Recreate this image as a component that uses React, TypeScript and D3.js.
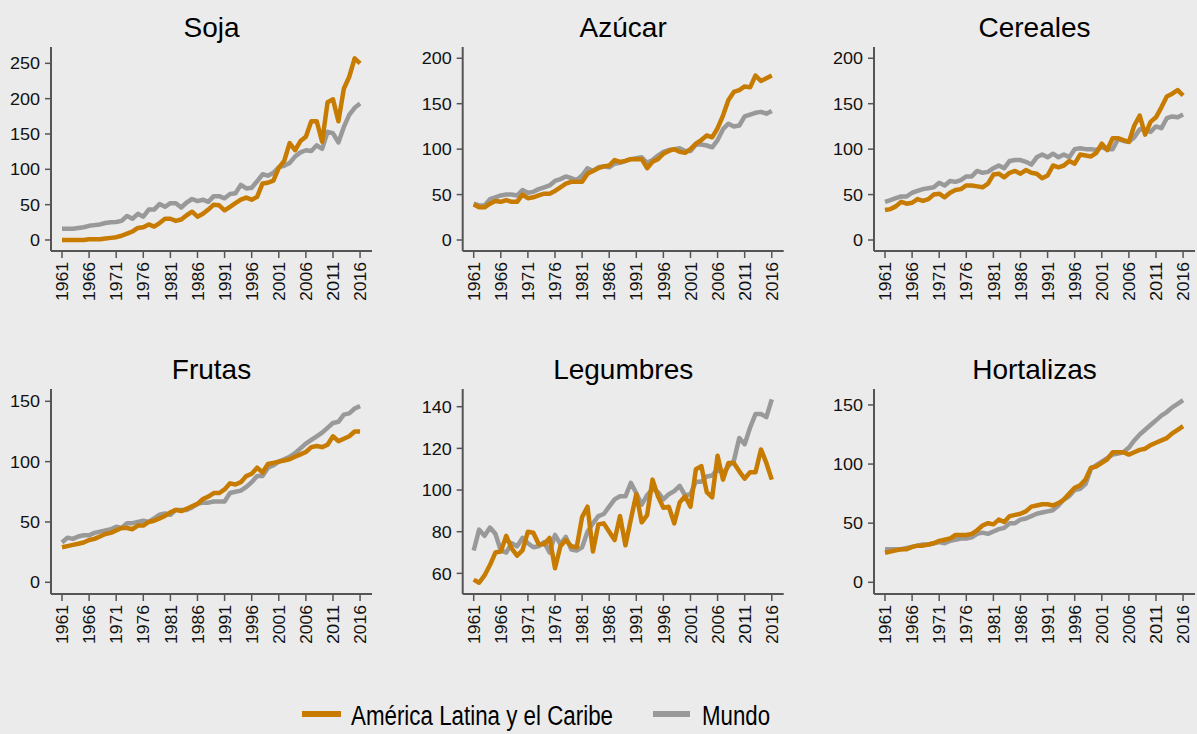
import * as d3 from "d3";

const YEARS = d3.range(1961, 2017);
const YEAR_TICKS = d3.range(1961, 2017, 5);

const SOJA_ALC = [0, 0, 0, 0, 0, 1, 1, 1, 2, 3, 4, 6, 9, 12, 17, 18, 22, 19, 24, 30, 30, 27, 29, 35, 40, 33, 37, 43, 50, 49, 42, 47, 52, 57, 60, 57, 61, 80, 81, 84, 102, 112, 137, 127, 140, 146, 168, 168, 139, 195, 199, 168, 214, 231, 257, 250];
const SOJA_MUNDO = [16, 16, 16, 17, 18, 20, 21, 22, 24, 25, 25.5, 27, 34, 30, 37, 33, 43, 43, 51, 47, 52, 52, 46, 53, 58, 55, 57, 54, 62, 62, 59, 65, 66, 78, 73, 74, 83, 93, 91, 95, 103, 105, 109, 118, 124, 127, 126, 134, 129, 153, 151, 138, 160, 177, 187, 193];

const AZUCAR_ALC = [39, 36, 36, 40, 43, 42, 44, 42, 42, 50, 46, 47, 49, 51, 51, 54, 58, 62, 64, 64, 64, 73, 76, 79, 81, 82, 88, 86, 87, 89, 89, 89, 79, 86, 89, 95, 98, 100, 97, 96, 100, 106, 110, 115, 113, 123, 137, 154, 163, 165, 169, 168, 181, 175, 178, 181];
const AZUCAR_MUNDO = [40, 38, 38, 45, 47, 49, 50, 50, 49, 55, 52, 53, 56, 58, 60, 65, 67, 70, 68, 66, 71, 79, 76, 80, 81, 80, 84, 85, 87, 89, 90, 91, 85, 88, 93, 97, 99, 100, 101, 98, 98, 105, 105, 104, 102, 110, 122, 128, 125, 126, 136, 138, 140, 141, 139, 142];

const CEREALES_ALC = [33, 34, 37, 42, 40, 41, 45, 43, 45, 50, 51, 47, 52, 55, 56, 60, 60, 59, 58, 62, 72, 73, 69, 74, 76, 73, 77, 74, 73, 68, 71, 82, 80, 82, 87, 84, 94, 93, 92, 96, 106, 99, 112, 112, 110, 108, 126, 137, 116, 130, 135, 146, 158, 161, 165, 159];
const CEREALES_MUNDO = [42, 44, 46, 48, 48, 52, 54, 56, 57, 58, 63, 60, 65, 64, 66, 70, 70, 76, 74, 75, 79, 82, 79, 87, 88, 88, 86, 83, 91, 94, 91, 95, 91, 94, 91, 100, 101, 100, 100, 99, 102, 100, 100, 111, 109, 108, 113, 122, 121, 119, 125, 123, 134, 136, 135, 138];

const FRUTAS_ALC = [29, 30, 31, 32, 33, 35, 36, 38, 40, 41, 43, 45, 45, 44, 47, 47, 50, 51, 53, 55, 58, 60, 59, 61, 63, 65, 69, 71, 74, 74, 77, 82, 81, 83, 88, 90, 95, 91, 98, 99, 100, 101, 102, 104, 106, 108, 112, 113, 112, 114, 121, 117, 119, 121, 125, 125];
const FRUTAS_MUNDO = [33, 37, 36, 38, 39, 39, 41, 42, 43, 44, 46, 45, 49, 49, 50, 51, 50, 53, 56, 57, 56, 60, 60, 60, 62, 65, 66, 66, 67, 67, 67, 74, 75, 76, 79, 83, 88, 88, 95, 97, 100, 102, 104, 107, 111, 115, 118, 121, 124, 128, 132, 133, 139, 140, 144, 146];

const LEGUMBRES_ALC = [57, 55.5, 59, 64, 70, 70.5, 78, 72, 68.5, 71, 80, 79.5, 74, 74, 77, 62.5, 73, 76, 73, 72.5, 87, 92, 70.5, 83.5, 84, 80, 76, 87.5, 73.5, 86, 98, 84.5, 88, 105, 97, 91.5, 92, 84, 94, 97, 92, 110, 111.5, 99, 96.5, 116.5, 105, 113, 113, 109, 105.5, 108.5, 108.5, 119.5, 113, 105];
const LEGUMBRES_MUNDO = [71, 81, 78, 82, 79, 71, 70, 74.5, 73, 77, 74.5, 72.5, 73, 75, 70, 78.5, 74, 77.5, 71.5, 71, 72.5, 80, 84, 87.5, 88.5, 92, 95.5, 97, 97, 103.5, 98.5, 93, 97.5, 100.5, 99, 95.5, 98, 99.5, 102, 97.5, 98, 104, 104, 106.5, 107, 110, 108, 111.5, 114, 125, 122, 130, 136.5, 136.5, 135, 143.5];

const HORTALIZAS_ALC = [25, 26, 27, 28, 28, 30, 31, 31, 32, 33, 35, 36, 37, 40, 40, 40, 41, 44, 48, 50, 49, 53, 51, 56, 57, 58, 60, 64, 65, 66, 66, 65, 67, 70, 75, 80, 82, 87, 97, 98, 101, 104, 110, 110, 110, 108, 110, 112, 113, 116, 118, 120, 122, 126, 129, 132];
const HORTALIZAS_MUNDO = [28, 28, 28, 28, 29, 30, 31, 32, 32, 33, 34, 33, 35, 36, 37, 37, 38, 41, 42, 41, 43, 45, 46, 50, 50, 53, 54, 56, 58, 59, 60, 61, 65, 70, 73, 78, 79, 83, 96, 99, 102, 105, 108, 109, 110, 114, 120, 125, 129, 133, 137, 141, 144, 148, 151, 154];

const TITLES = ["Soja", "Azúcar", "Cereales", "Frutas", "Legumbres", "Hortalizas"];
const SERIES_ALC = [SOJA_ALC, AZUCAR_ALC, CEREALES_ALC, FRUTAS_ALC, LEGUMBRES_ALC, HORTALIZAS_ALC];
const SERIES_MUNDO = [SOJA_MUNDO, AZUCAR_MUNDO, CEREALES_MUNDO, FRUTAS_MUNDO, LEGUMBRES_MUNDO, HORTALIZAS_MUNDO];
const Y_TICKS = [
  [0, 50, 100, 150, 200, 250],
  [0, 50, 100, 150, 200],
  [0, 50, 100, 150, 200],
  [0, 50, 100, 150],
  [60, 80, 100, 120, 140],
  [0, 50, 100, 150],
];
const Y_DOMAINS = [
  [-15.6, 273.1],
  [-12.1, 212.4],
  [-12.1, 212.4],
  [-9.7, 160.2],
  [50.1, 148.5],
  [-9.9, 163.5],
];
const LEGEND = ["América Latina y el Caribe", "Mundo"];

const W = 1197;
const H = 734;
const ORANGE = "#c77b00";
const GRAY = "#999999";
const AXIS = "#555555";
const FONT = "'Liberation Sans', Arial, sans-serif";

const PLOT_W = 321;
const COL_X = [51, 462.7, 874];
const ROW_Y = [47, 389];
const ROW_H = [204, 205];

function Panel({ i }: { i: number }) {
  const left = COL_X[i % 3];
  const top = ROW_Y[Math.floor(i / 3)];
  const h = ROW_H[Math.floor(i / 3)];

  const x = d3.scaleLinear().domain([1958.97, 2018.2]).range([0, PLOT_W]);
  const y = d3.scaleLinear().domain(Y_DOMAINS[i]).range([h, 0]);
  const line = d3
    .line<number>()
    .x((_, k) => x(YEARS[k]))
    .y((d) => y(d));

  return (
    <g transform={`translate(${left},${top})`}>
      <text x={PLOT_W / 2} y={-10} textAnchor="middle" fontSize={28} fill="#000">
        {TITLES[i]}
      </text>
      <path d={line(SERIES_MUNDO[i]) || ""} fill="none" stroke={GRAY} strokeWidth={4.5} strokeLinejoin="round" />
      <path d={line(SERIES_ALC[i]) || ""} fill="none" stroke={ORANGE} strokeWidth={4.5} strokeLinejoin="round" />
      <line x1={0} x2={0} y1={0} y2={h} stroke={AXIS} strokeWidth={2} />
      <line x1={0} x2={PLOT_W} y1={h} y2={h} stroke={AXIS} strokeWidth={2} />
      {Y_TICKS[i].map((t) => (
        <g key={t} transform={`translate(0,${y(t)})`}>
          <line x1={-6} x2={0} stroke={AXIS} strokeWidth={1.5} />
          <text
            x={-11}
            dy="0.36em"
            textAnchor="end"
            fontSize={17}
            textLength={String(t).length * 10}
            lengthAdjust="spacingAndGlyphs"
            fill="#111"
          >
            {t}
          </text>
        </g>
      ))}
      {YEAR_TICKS.map((t) => (
        <g key={t} transform={`translate(${x(t)},${h})`}>
          <line y1={0} y2={7} stroke={AXIS} strokeWidth={1.5} />
          <text
            transform="rotate(-90)"
            x={-11}
            dy="0.36em"
            textAnchor="end"
            fontSize={17}
            textLength={39}
            lengthAdjust="spacingAndGlyphs"
            fill="#111"
          >
            {t}
          </text>
        </g>
      ))}
    </g>
  );
}

export default function App() {
  return (
    <svg
      width={W}
      height={H}
      style={{ position: "absolute", left: 0, top: 0, background: "#ebebeb", fontFamily: FONT }}
    >
      <rect width={W} height={H} fill="#ebebeb" />
      {TITLES.map((_, i) => (
        <Panel key={i} i={i} />
      ))}
      <g>
        <line x1={302} x2={341} y1={714} y2={714} stroke={ORANGE} strokeWidth={6} />
        <text x={351} y={725} fontSize={27} textLength={262} lengthAdjust="spacingAndGlyphs" fill="#000">
          {LEGEND[0]}
        </text>
        <line x1={653} x2={690} y1={714} y2={714} stroke={GRAY} strokeWidth={6} />
        <text x={702} y={725} fontSize={27} textLength={68} lengthAdjust="spacingAndGlyphs" fill="#000">
          {LEGEND[1]}
        </text>
      </g>
    </svg>
  );
}
